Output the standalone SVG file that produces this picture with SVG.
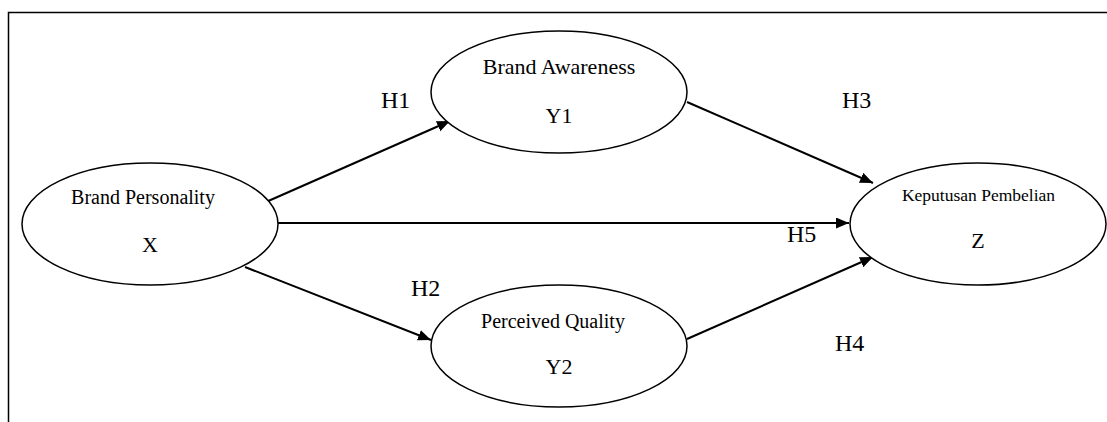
<svg xmlns="http://www.w3.org/2000/svg" width="1107" height="422" viewBox="0 0 1107 422">
<style>
.node ellipse{fill:#fff;stroke:#000;stroke-width:1.5}
text{font-family:"Liberation Serif","Times New Roman",serif;fill:#000;text-anchor:middle}
.lbl{font-size:24px;text-anchor:start}
.conn line{stroke:#000;stroke-width:2;marker-end:url(#arr)}
</style>
<defs>
<marker id="arr" markerUnits="userSpaceOnUse" markerWidth="14" markerHeight="12" refX="13" refY="5.5" orient="auto">
<path d="M0,0 L13,5.5 L0,11 z" fill="#000"/>
</marker>
</defs>
<rect width="1107" height="422" fill="#fff"/>
<path d="M8.5,422 V12.5 H1107" fill="none" stroke="#000" stroke-width="1.5"/>
<g id="connectors" class="conn">
<line x1="266" y1="202" x2="450" y2="121"/>
<line x1="278" y1="223" x2="849" y2="223"/>
<line x1="245" y1="267" x2="431" y2="340"/>
<line x1="687" y1="102" x2="873" y2="183"/>
<line x1="687" y1="339" x2="873" y2="257"/>
</g>
<g id="node-x" class="node">
<ellipse cx="150" cy="224" rx="128" ry="61"/>
<text x="143" y="204" font-size="20">Brand Personality</text>
<text x="150" y="252" font-size="22">X</text>
</g>
<g id="node-y1" class="node">
<ellipse cx="559" cy="92" rx="128" ry="61"/>
<text x="559" y="74" font-size="22">Brand Awareness</text>
<text x="559" y="123" font-size="22">Y1</text>
</g>
<g id="node-y2" class="node">
<ellipse cx="559" cy="346" rx="128" ry="61"/>
<text x="553" y="328" font-size="20">Perceived Quality</text>
<text x="559" y="374" font-size="22">Y2</text>
</g>
<g id="node-z" class="node">
<ellipse cx="978" cy="224" rx="128" ry="61"/>
<text x="978.5" y="201" font-size="17.5">Keputusan Pembelian</text>
<text x="978" y="248" font-size="22">Z</text>
</g>
<g id="labels">
<text class="lbl" x="381" y="108">H1</text>
<text class="lbl" x="411" y="296">H2</text>
<text class="lbl" x="842" y="108">H3</text>
<text class="lbl" x="835" y="351">H4</text>
<text class="lbl" x="787" y="242">H5</text>
</g>
</svg>
